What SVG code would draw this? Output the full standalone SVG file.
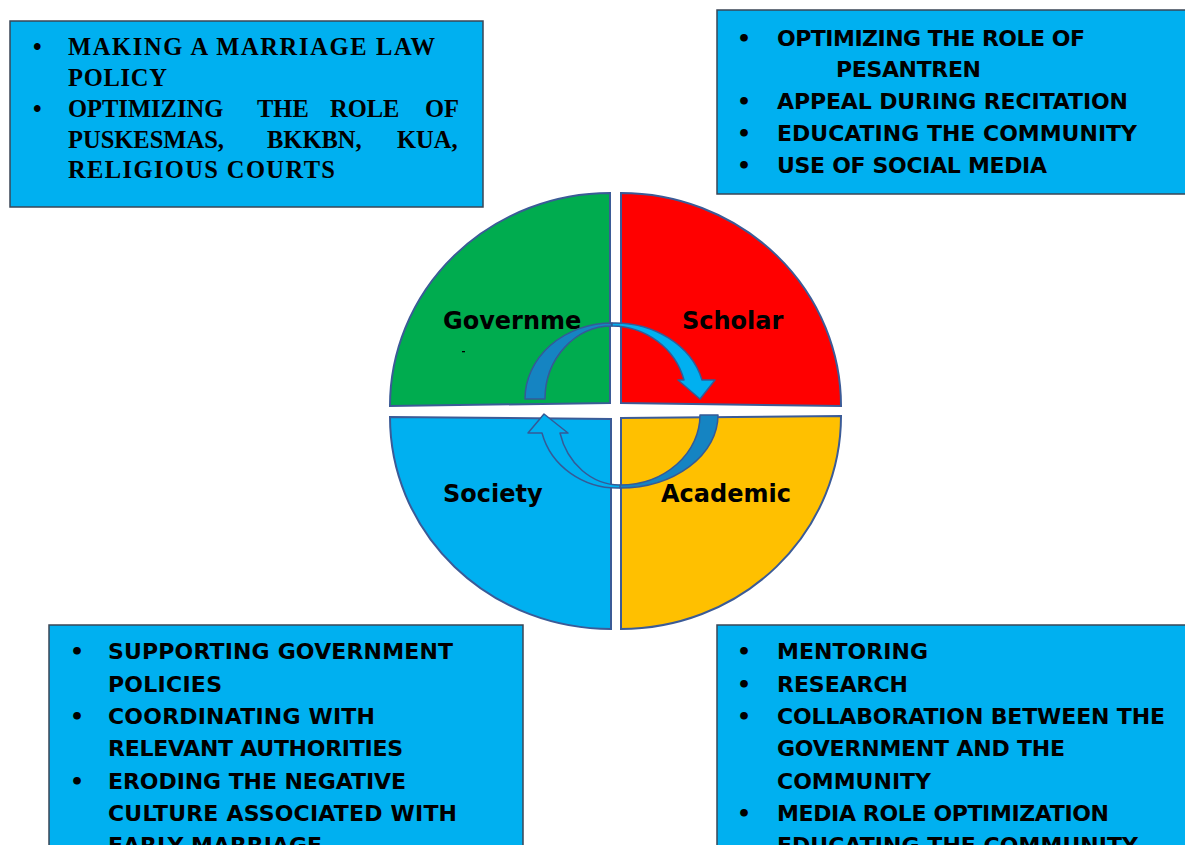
<svg xmlns="http://www.w3.org/2000/svg" width="1185" height="845" viewBox="0 0 1185 845">
<style>
.box{fill:#00b0f0;stroke:#3a4656;stroke-width:1.5}
.q{stroke:#3b5b97;stroke-width:2}
.lbl{font-family:"DejaVu Sans","Liberation Sans",sans-serif;font-weight:bold;font-size:24px;fill:#000}
.sans{font-family:"DejaVu Sans","Liberation Sans",sans-serif;font-weight:bold;font-size:22px;fill:#000}
.serif{font-family:"Liberation Serif","Times New Roman",serif;font-weight:bold;font-size:24.5px;fill:#000}
.dark{fill:#1584c2;stroke:#355a96;stroke-width:1.5;stroke-linejoin:round}
.light{fill:#00b0f0;stroke:#355a96;stroke-width:1.5;stroke-linejoin:round}
</style>
<rect width="1185" height="845" fill="#fff"/>

<g id="government">
<path class="q" fill="#00ac4f" d="M610,193 L610,403 L390,406 A220,213 0 0 1 610,193 Z"/>
<text class="lbl" x="443" y="329">Governme</text>
<rect x="462" y="351" width="3" height="1.3" fill="#000"/>
</g>
<g id="scholar">
<path class="q" fill="#ff0000" d="M621,193 A220,213 0 0 1 841,406 L621,403 Z"/>
<text class="lbl" x="682" y="329">Scholar</text>
</g>
<g id="society">
<path class="q" fill="#00b0f0" d="M390,417 L611,419 L611,629 A221,212 0 0 1 390,417 Z"/>
<text class="lbl" x="443" y="502">Society</text>
</g>
<g id="academic">
<path class="q" fill="#ffc000" d="M621,418 L841,416 A220,213 0 0 1 621,629 Z"/>
<text class="lbl" x="661" y="502">Academic</text>
</g>

<g id="connectors">
<path class="dark" d="M525,399 A87,76 0 0 1 612,323 L612,326 A67,73 0 0 0 545,399 Z"/>
<path class="light" d="M612,323 A90,76 0 0 1 702,380 L715,380 L700,399 L678,380 L684,380 A75,73 0 0 0 612,326 Z"/>
<path class="dark" d="M718,415 A98,73 0 0 1 620,488 L620,485 A80,70 0 0 0 700,415 Z"/>
<path class="light" d="M620,488 A78,73 0 0 1 542,433 L528,433 L544,414 L568,433 L560,433 A62,70 0 0 0 620,485 Z"/>
</g>

<g id="box-government">
<rect class="box" x="10" y="21" width="473" height="186"/>
<text class="serif" x="33" y="55">•</text>
<text class="serif" x="68" y="55" textLength="367" lengthAdjust="spacing">MAKING A MARRIAGE LAW</text>
<text class="serif" x="68" y="86" textLength="99" lengthAdjust="spacing">POLICY</text>
<text class="serif" x="33" y="117">•</text>
<text class="serif" y="117"><tspan x="68">OPTIMIZING</tspan><tspan x="257">THE</tspan><tspan x="330">ROLE</tspan><tspan x="425">OF</tspan></text>
<text class="serif" y="148"><tspan x="68">PUSKESMAS,</tspan><tspan x="267">BKKBN,</tspan><tspan x="397">KUA,</tspan></text>
<text class="serif" x="68" y="178" textLength="267" lengthAdjust="spacing">RELIGIOUS COURTS</text>
</g>

<g id="box-scholar">
<rect class="box" x="717" y="10" width="490" height="184"/>
<text class="sans" x="737" y="46">•</text>
<text class="sans" x="777" y="46" textLength="308" lengthAdjust="spacing">OPTIMIZING THE ROLE OF</text>
<text class="sans" x="836" y="77" textLength="145" lengthAdjust="spacing">PESANTREN</text>
<text class="sans" x="737" y="109">•</text>
<text class="sans" x="777" y="109" textLength="351" lengthAdjust="spacing">APPEAL DURING RECITATION</text>
<text class="sans" x="737" y="141">•</text>
<text class="sans" x="777" y="141" textLength="360" lengthAdjust="spacing">EDUCATING THE COMMUNITY</text>
<text class="sans" x="737" y="173">•</text>
<text class="sans" x="777" y="173" textLength="270" lengthAdjust="spacing">USE OF SOCIAL MEDIA</text>
</g>

<g id="box-society">
<rect class="box" x="49" y="625" width="474" height="240"/>
<text class="sans" x="70" y="659">•</text>
<text class="sans" x="108" y="659" textLength="345" lengthAdjust="spacing">SUPPORTING GOVERNMENT</text>
<text class="sans" x="108" y="692" textLength="114" lengthAdjust="spacing">POLICIES</text>
<text class="sans" x="70" y="724">•</text>
<text class="sans" x="108" y="724" textLength="267" lengthAdjust="spacing">COORDINATING WITH</text>
<text class="sans" x="108" y="756" textLength="295" lengthAdjust="spacing">RELEVANT AUTHORITIES</text>
<text class="sans" x="70" y="789">•</text>
<text class="sans" x="108" y="789" textLength="298" lengthAdjust="spacing">ERODING THE NEGATIVE</text>
<text class="sans" x="108" y="821" textLength="349" lengthAdjust="spacing">CULTURE ASSOCIATED WITH</text>
<text class="sans" x="108" y="853" textLength="214" lengthAdjust="spacing">EARLY MARRIAGE</text>
</g>

<g id="box-academic">
<rect class="box" x="717" y="625" width="490" height="240"/>
<text class="sans" x="737" y="659">•</text>
<text class="sans" x="777" y="659" textLength="151" lengthAdjust="spacing">MENTORING</text>
<text class="sans" x="737" y="692">•</text>
<text class="sans" x="777" y="692" textLength="131" lengthAdjust="spacing">RESEARCH</text>
<text class="sans" x="737" y="724">•</text>
<text class="sans" x="777" y="724" textLength="388" lengthAdjust="spacing">COLLABORATION BETWEEN THE</text>
<text class="sans" x="777" y="756" textLength="288" lengthAdjust="spacing">GOVERNMENT AND THE</text>
<text class="sans" x="777" y="789" textLength="154" lengthAdjust="spacing">COMMUNITY</text>
<text class="sans" x="737" y="821">•</text>
<text class="sans" x="777" y="821" textLength="332" lengthAdjust="spacing">MEDIA ROLE OPTIMIZATION</text>
<text class="sans" x="777" y="853" textLength="361" lengthAdjust="spacing">EDUCATING THE COMMUNITY</text>
</g>
</svg>
